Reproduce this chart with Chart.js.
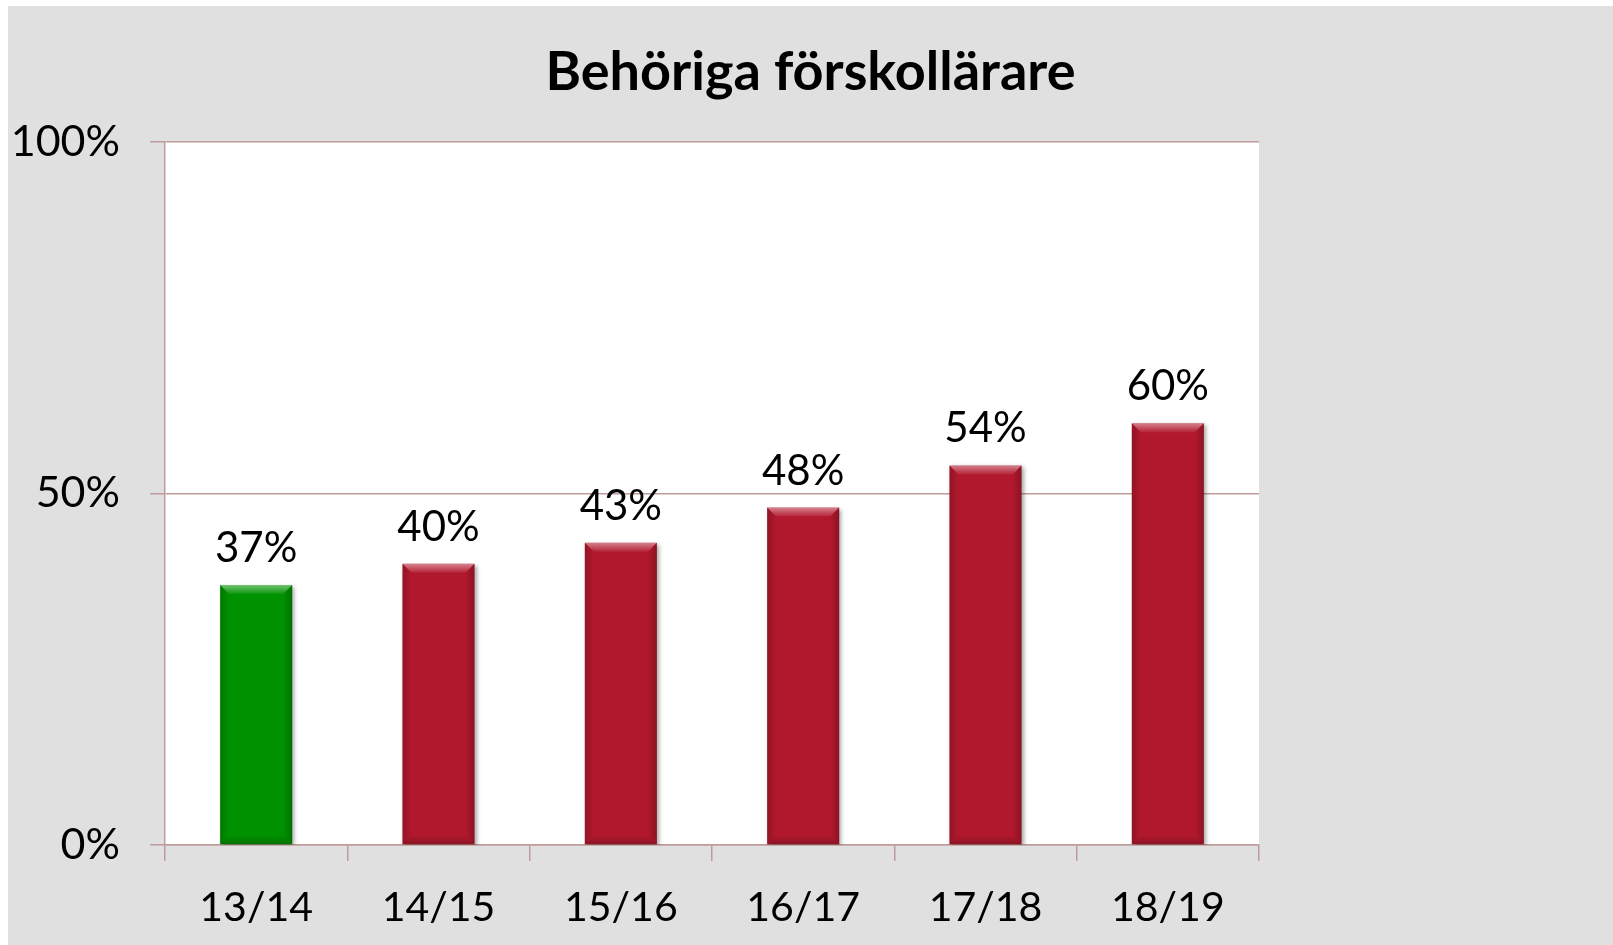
<!DOCTYPE html>
<html>
<head>
<meta charset="utf-8">
<script src="https://cdn.jsdelivr.net/npm/chart.js@4/dist/chart.umd.min.js"></script>
<style>
  html,body{margin:0;padding:0;background:#fff;overflow:hidden;}
  #wrap{position:absolute;left:8px;top:6px;width:1605px;height:939px;background:#e0e0e0;}
</style>
</head>
<body>
<div id="wrap"><canvas id="chart" width="1605" height="939"></canvas></div>
<script>
const years = ["13/14","14/15","15/16","16/17","17/18","18/19"];
const shares = [0.37,0.40,0.43,0.48,0.54,0.60];
const yTicks = [0,0.5,1];

const RED = "#b2182d", GREEN = "#009100";
const AXIS = "#bf9c9c";
const FONT = "Lato, 'Open Sans', sans-serif";

/* white plot area */
const plotBg = {
  id:"plotBg",
  beforeDraw(c){
    const a=c.chartArea, x=c.ctx;
    x.save(); x.fillStyle="#fff";
    x.fillRect(a.left,a.top,a.right-a.left,a.bottom-a.top);
    x.restore();
  }
};

/* soft shadow under the bars */
const shadow = {
  id:"shadow",
  beforeDatasetsDraw(c){
    const x=c.ctx; x.save();
    x.shadowColor="rgba(0,0,0,.35)"; x.shadowBlur=4; x.shadowOffsetX=2; x.shadowOffsetY=2;
  },
  afterDatasetsDraw(c){ c.ctx.restore(); }
};

/* bevel + value labels */
const bevel = {
  id:"bevel",
  afterDatasetsDraw(c){
    const x=c.ctx;
    c.getDatasetMeta(0).data.forEach((b,i)=>{
      const l=b.x-b.width/2, r=b.x+b.width/2, t=b.y, btm=b.base, e=9;
      x.save();
      // top highlight
      let g=x.createLinearGradient(0,t,0,t+e);
      g.addColorStop(0,"rgba(255,255,255,.45)"); g.addColorStop(1,"rgba(255,255,255,.05)");
      x.fillStyle=g;
      x.beginPath(); x.moveTo(l,t); x.lineTo(r,t); x.lineTo(r-e,t+e); x.lineTo(l+e,t+e); x.closePath(); x.fill();
      // sides
      g=x.createLinearGradient(l,0,l+e,0);
      g.addColorStop(0,"rgba(0,0,0,.18)"); g.addColorStop(1,"rgba(0,0,0,0)");
      x.fillStyle=g;
      x.beginPath(); x.moveTo(l,t); x.lineTo(l+e,t+e); x.lineTo(l+e,btm-e); x.lineTo(l,btm); x.closePath(); x.fill();
      g=x.createLinearGradient(r,0,r-e,0);
      g.addColorStop(0,"rgba(0,0,0,.22)"); g.addColorStop(1,"rgba(0,0,0,0)");
      x.fillStyle=g;
      x.beginPath(); x.moveTo(r,t); x.lineTo(r-e,t+e); x.lineTo(r-e,btm-e); x.lineTo(r,btm); x.closePath(); x.fill();
      // bottom
      g=x.createLinearGradient(0,btm,0,btm-e);
      g.addColorStop(0,"rgba(0,0,0,.22)"); g.addColorStop(1,"rgba(0,0,0,0)");
      x.fillStyle=g;
      x.beginPath(); x.moveTo(l,btm); x.lineTo(r,btm); x.lineTo(r-e,btm-e); x.lineTo(l+e,btm-e); x.closePath(); x.fill();
      // label
      x.fillStyle="#000"; x.font="42px "+FONT; x.textAlign="center"; x.textBaseline="alphabetic";
      x.fillText(Math.round(shares[i]*100)+"%", b.x, t-23);
      x.restore();
    });
  }
};

new Chart(document.getElementById("chart"),{
  type:"bar",
  data:{
    labels:years,
    datasets:[{
      data:shares,
      backgroundColor:years.map((y,i)=>i===0?GREEN:RED),
      borderWidth:0,
      categoryPercentage:1,
      barPercentage:0.395
    }]
  },
  options:{
    responsive:false,
    animation:false,
    layout:{padding:0},
    plugins:{
      legend:{display:false},
      tooltip:{enabled:false},
      title:{
        display:true,
        text:"Behöriga förskollärare",
        color:"#000",
        font:{family:FONT,size:54,weight:"bold",lineHeight:1.2},
        padding:{top:34.4,bottom:36.8}
      }
    },
    scales:{
      x:{
        offset:true,
        grid:{offset:true,drawOnChartArea:false,drawTicks:true,tickLength:16,color:AXIS,lineWidth:1.5},
        border:{color:AXIS,width:1.5},
        ticks:{color:"#000",font:{family:FONT,size:41},padding:22,maxRotation:0},
        afterFit(s){ s.height=100; }
      },
      y:{
        min:0,max:1,
        afterBuildTicks(s){ s.ticks=yTicks.map(v=>({value:v})); },
        grid:{color:AXIS,lineWidth:1.5,tickLength:15},
        border:{color:AXIS,width:1.5},
        ticks:{color:"#000",font:{family:FONT,size:43},padding:30,callback:v=>Math.round(v*100)+"%"},
        afterFit(s){ s.width=157; }
      },
      /* empty space right of the plot */
      spacer:{
        type:"linear",axis:"y",position:"right",
        grid:{display:false},border:{display:false},ticks:{display:false},
        afterFit(s){ s.width=354; }
      }
    }
  },
  plugins:[plotBg,shadow,bevel]
});
</script>
</body>
</html>
